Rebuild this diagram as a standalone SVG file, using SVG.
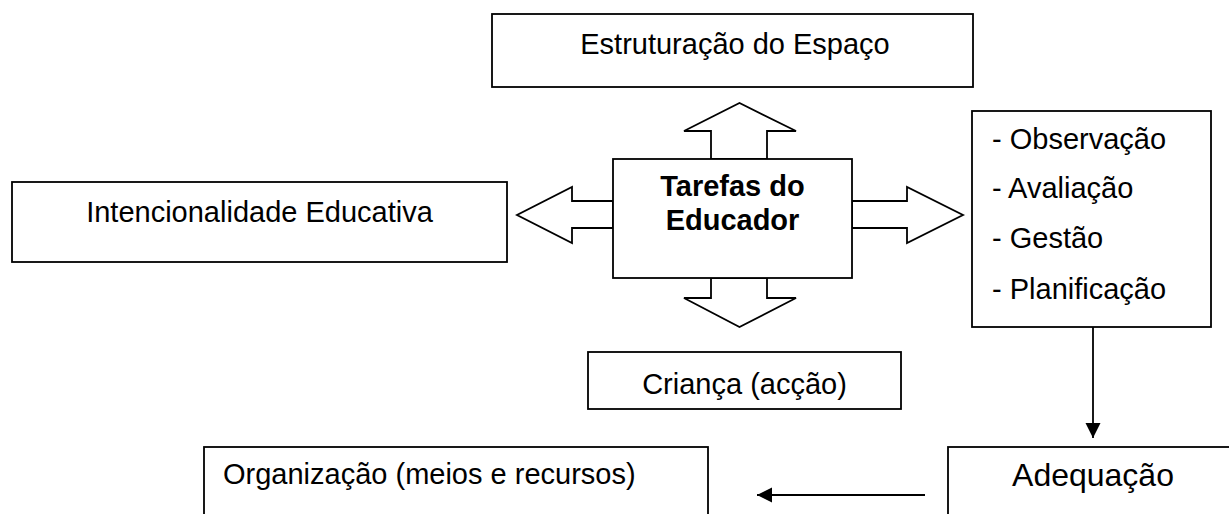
<svg xmlns="http://www.w3.org/2000/svg" width="1229" height="514" viewBox="0 0 1229 514">
  <style>
    .box { fill: #ffffff; stroke: #000000; stroke-width: 1.8; }
    .blk { fill: #ffffff; stroke: #000000; stroke-width: 1.8; stroke-linejoin: miter; }
    .line { fill: none; stroke: #000000; stroke-width: 1.8; }
    text { font-family: "Liberation Sans", Arial, sans-serif; font-size: 29px; fill: #000000; }
    .c { text-anchor: middle; }
    .b { font-weight: bold; }
  </style>
  <defs>
    <marker id="ah" markerUnits="userSpaceOnUse" markerWidth="16" markerHeight="16" viewBox="0 0 16 16" refX="15" refY="8" orient="auto">
      <path d="M0,0.5 L15,8 L0,15.5 Z" fill="#000000"/>
    </marker>
  </defs>
  <rect width="1229" height="514" fill="#ffffff"/>

  <g id="connectors">
    <polygon class="blk" points="711,159 711,131 684,131 739.5,103 796,131 767,131 767,159"/>
    <polygon class="blk" points="711,278 711,298 684,298 739.5,327 796,298 767,298 767,278"/>
    <polygon class="blk" points="613,201 572,201 572,187 517,215 572,243 572,228 613,228"/>
    <polygon class="blk" points="852,201 907,201 907,187 963,215 907,243 907,228 852,228"/>
    <line class="line" x1="1093" y1="327" x2="1093" y2="438" marker-end="url(#ah)"/>
    <line class="line" x1="925" y1="495" x2="757" y2="495" marker-end="url(#ah)"/>
  </g>

  <g id="node-estruturacao">
    <rect class="box" x="492" y="14" width="481" height="73"/>
    <text class="c" x="735" y="54">Estruturação do Espaço</text>
  </g>

  <g id="node-tarefas">
    <rect class="box" x="613" y="159" width="239" height="119"/>
    <text class="c b" x="732.5" y="196">Tarefas do</text>
    <text class="c b" x="732.5" y="230">Educador</text>
  </g>

  <g id="node-intencionalidade">
    <rect class="box" x="12" y="182" width="495" height="80"/>
    <text class="c" x="259.5" y="222">Intencionalidade Educativa</text>
  </g>

  <g id="node-tarefas-lista">
    <rect class="box" x="972" y="111" width="239" height="216"/>
    <text x="992" y="149">- Observação</text>
    <text x="992" y="198">- Avaliação</text>
    <text x="992" y="248">- Gestão</text>
    <text x="992" y="299">- Planificação</text>
  </g>

  <g id="node-crianca">
    <rect class="box" x="588" y="352" width="313" height="57"/>
    <text class="c" x="744.5" y="394">Criança (acção)</text>
  </g>

  <g id="node-organizacao">
    <rect class="box" x="204" y="447" width="504" height="90"/>
    <text x="223" y="484">Organização (meios e recursos)</text>
  </g>

  <g id="node-adequacao">
    <rect class="box" x="948" y="447" width="290" height="90"/>
    <text class="c" x="1093" y="486" style="font-size:32px">Adequação</text>
  </g>
</svg>
